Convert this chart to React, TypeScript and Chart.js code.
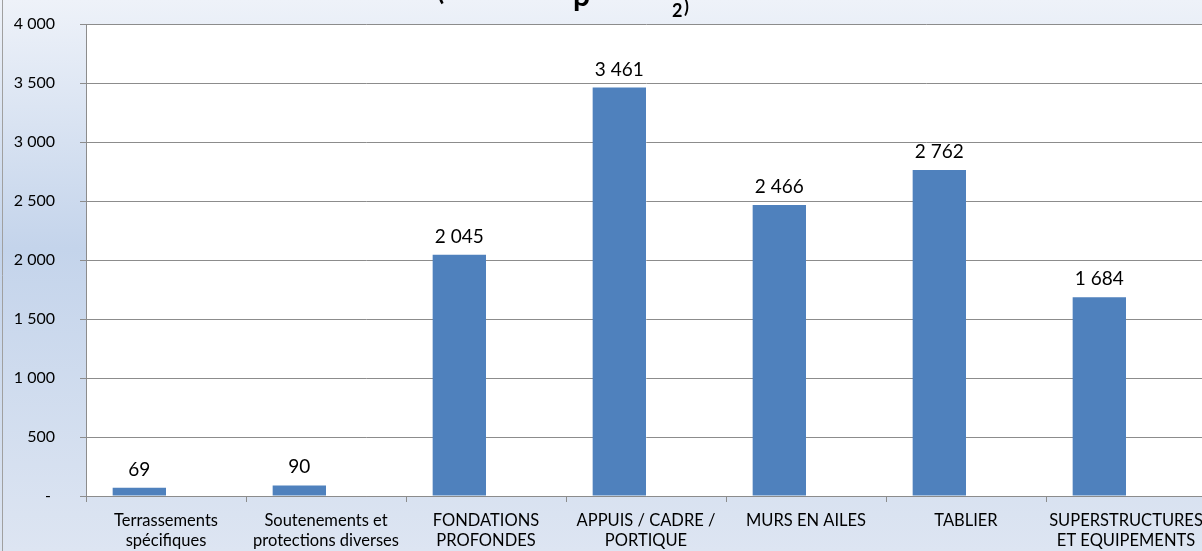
import React, { useEffect, useRef } from "react";
import { Chart, registerables } from "chart.js";

Chart.register(...registerables);

// ---- data ----
const categories: string[][] = [
  ["Terrassements", "spécifiques"],
  ["Soutenements et", "protections diverses"],
  ["FONDATIONS", "PROFONDES"],
  ["APPUIS / CADRE /", "PORTIQUE"],
  ["MURS EN AILES"],
  ["TABLIER"],
  ["SUPERSTRUCTURES", "ET EQUIPEMENTS"],
];
const costValues: number[] = [69, 90, 2045, 3461, 2466, 2762, 1684];
const emptySeries: (number | null)[] = [null, null, null, null, null, null, null];
const yTicks: number[] = [0, 500, 1000, 1500, 2000, 2500, 3000, 3500, 4000];
// visible lower sliver of the (cropped) chart title
const titleFragments = [
  { text: "(", x: 437, base: 0, size: 26 },
  { text: "p", x: 573, base: 6, size: 30 },
  { text: "2", x: 672, base: 17, size: 18 },
  { text: ")", x: 684, base: 13, size: 18 },
];

const FONT = "Lato, 'Open Sans', sans-serif";
const GRID = "#8c8c8c";
const BAR = "#4f81bd";

const fmt = (v: number) =>
  v === 0 ? "- " : String(Math.round(v)).replace(/\B(?=(\d{3})+(?!\d))/g, " ");

const backgroundPlugin = {
  id: "bgPlugin",
  beforeDraw(chart: any) {
    const { ctx, width, height, chartArea } = chart;
    ctx.save();
    const g = ctx.createLinearGradient(0, 0, 0, height);
    g.addColorStop(0, "#eef2f9");
    g.addColorStop(0.45, "#c4d4eb");
    g.addColorStop(1, "#dde5f2");
    ctx.fillStyle = g;
    ctx.fillRect(0, 0, width, height);
    ctx.fillStyle = "#ffffff";
    ctx.fillRect(chartArea.left, chartArea.top, chartArea.right - chartArea.left, chartArea.bottom - chartArea.top);
    ctx.strokeStyle = "#a0a0a0";
    ctx.lineWidth = 1;
    ctx.beginPath();
    ctx.moveTo(2.5, 0);
    ctx.lineTo(2.5, height);
    ctx.stroke();
    ctx.restore();
  },
  afterDraw(chart: any) {
    const { ctx } = chart;
    ctx.save();
    ctx.fillStyle = "#000";
    ctx.textBaseline = "alphabetic";
    ctx.textAlign = "left";
    for (const f of titleFragments) {
      ctx.font = `bold ${f.size}px ${FONT}`;
      ctx.fillText(f.text, f.x, f.base);
    }
    ctx.restore();
  },
};

const valueLabelPlugin = {
  id: "valueLabels",
  afterDatasetsDraw(chart: any) {
    const { ctx } = chart;
    const meta = chart.getDatasetMeta(0);
    ctx.save();
    ctx.font = `19px ${FONT}`;
    ctx.fillStyle = "#000";
    ctx.textAlign = "center";
    ctx.textBaseline = "alphabetic";
    meta.data.forEach((bar: any, i: number) => {
      const v = costValues[i];
      if (v == null) return;
      ctx.fillText(fmt(v), bar.x, bar.y - 12);
    });
    ctx.restore();
  },
};

export default function App() {
  const ref = useRef<HTMLCanvasElement>(null);

  useEffect(() => {
    if (!ref.current) return;
    const chart = new Chart(ref.current, {
      type: "bar",
      data: {
        labels: categories,
        datasets: [
          {
            label: "Coût",
            data: costValues,
            backgroundColor: BAR,
            borderWidth: 0,
            categoryPercentage: 2 / 3,
            barPercentage: 1,
          },
          {
            label: "",
            data: emptySeries,
            backgroundColor: "#c0504d",
            borderWidth: 0,
            categoryPercentage: 2 / 3,
            barPercentage: 1,
          },
        ],
      },
      options: {
        responsive: false,
        animation: false,
        devicePixelRatio: 1,
        layout: { padding: { left: 0, top: 24, right: 6, bottom: 0 } },
        plugins: {
          legend: { display: false },
          tooltip: { enabled: false },
          title: { display: false },
        },
        scales: {
          x: {
            offset: true,
            grid: {
              offset: true,
              drawOnChartArea: false,
              drawTicks: true,
              tickLength: 6,
              color: GRID,
            },
            border: { display: true, color: GRID },
            ticks: {
              color: "#000",
              padding: 9,
              maxRotation: 0,
              autoSkip: false,
              font: { family: FONT, size: 16.5, lineHeight: "20px" },
            },
            afterFit: (s: any) => {
              s.height = 55;
              s.paddingLeft = 0;
              s.paddingRight = 0;
            },
          },
          y: {
            min: yTicks[0],
            max: yTicks[yTicks.length - 1],
            grid: { color: GRID, tickLength: 6, drawTicks: true },
            border: { display: true, color: GRID },
            ticks: {
              stepSize: yTicks[1] - yTicks[0],
              color: "#000",
              padding: 25,
              font: { family: FONT, size: 16 },
              callback: (v: any) => fmt(Number(v)),
            },
            afterFit: (s: any) => {
              s.width = 86;
              s.paddingTop = 0;
              s.paddingBottom = 0;
            },
          },
        },
      },
      plugins: [backgroundPlugin, valueLabelPlugin],
    });
    return () => chart.destroy();
  }, []);

  return (
    <div
      style={{
        position: "absolute",
        left: 0,
        top: 0,
        width: 1202,
        height: 551,
        overflow: "hidden",
      }}
    >
      <canvas ref={ref} width={1212} height={551} style={{ width: 1212, height: 551, display: "block" }} />
    </div>
  );
}
